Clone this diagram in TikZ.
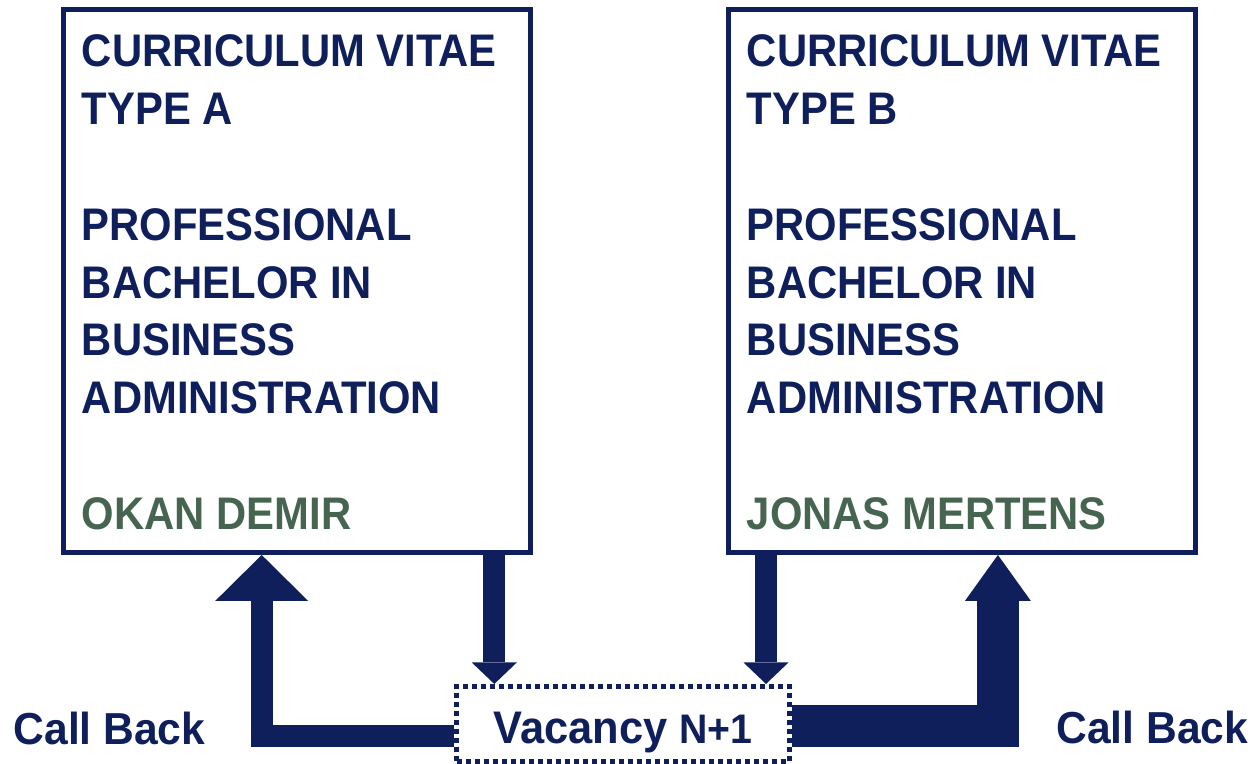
\documentclass[tikz,border=0pt]{standalone}
\usepackage{fontspec}
\newfontfamily\cvfont{Liberation Sans}[FakeStretch=0.915]
\newfontfamily\tagfont{Liberation Sans}[FakeStretch=0.95]
\usepackage{tikz}
\usetikzlibrary{positioning,calc,arrows.meta}

\definecolor{navy}{HTML}{0E1F5C}
\definecolor{namegreen}{HTML}{466550}

\begin{document}
\begin{tikzpicture}[
    cvbox/.style={draw=navy, line width=0.1cm, minimum width=9.34cm, minimum height=10.85cm, inner sep=0pt},
    cvtext/.style={text=navy, align=left, inner sep=0pt, font=\cvfont\bfseries\fontsize{26}{32.9}\selectfont},
    vacbox/.style={draw=navy, line width=0.1cm, dash pattern=on 0.1cm off 0.08cm, minimum width=6.66cm, minimum height=1.5cm,
        text height=0.8cm, text depth=0.03cm, text=navy, font=\tagfont\bfseries\fontsize{26}{32.9}\selectfont},
    backlabel/.style={text=navy, inner sep=0pt, font=\tagfont\bfseries\fontsize{25.5}{30}\selectfont},
    downarr/.style={navy, line width=0.44cm, -{Triangle[width=0.9cm,length=0.43cm,line width=0pt]}},
    backarrA/.style={navy, line width=0.44cm, -{Triangle[width=1.86cm,length=0.92cm,line width=0pt]}},
    backarrB/.style={navy, line width=0.84cm, -{Triangle[width=1.32cm,length=0.92cm,line width=0pt]}}
]
\useasboundingbox (0,0) rectangle (25.1,15.28);

% ===== CV boxes =====
\node[cvbox] (cvA) at (5.94,9.655) {};
\node[cvbox] (cvB) at (19.245,9.655) {};

\node[cvtext, anchor=north west] (txtA) at (1.63,14.59) {CURRICULUM VITAE\\TYPE A\\[32.9pt]PROFESSIONAL\\BACHELOR IN\\BUSINESS\\ADMINISTRATION\\[32.9pt]\textcolor{namegreen}{OKAN DEMIR}};
\node[cvtext, anchor=north west] (txtB) at (14.93,14.59) {CURRICULUM VITAE\\TYPE B\\[32.9pt]PROFESSIONAL\\BACHELOR IN\\BUSINESS\\ADMINISTRATION\\[32.9pt]\textcolor{namegreen}{JONAS MERTENS}};

% ===== Vacancy =====
\node[vacbox] (vac) at (12.46,0.8) {Vacancy {\fontsize{23.5}{30}\selectfont N+1}};

% drop points and bends
\coordinate (dropA) at (9.886,0);
\coordinate (dropB) at (15.32,0);
\coordinate (bendA) at (5.234,0.56);
\coordinate (bendB) at (19.958,0.762);

% CVs sent in
\draw[downarr] (cvA.south -| dropA) -- (vac.north -| dropA);
\draw[downarr] (cvB.south -| dropB) -- (vac.north -| dropB);

% call backs
\draw[backarrA] (vac.west |- bendA) -- (bendA) -- (cvA.south -| bendA);
\draw[backarrB] (vac.east |- bendB) -- (bendB) -- (cvB.south -| bendB);

\node[backlabel, anchor=base] (backA) at (2.19,0.38) {Call Back};
\node[backlabel, anchor=base] (backB) at (23.046,0.4) {Call Back};

\end{tikzpicture}
\end{document}
